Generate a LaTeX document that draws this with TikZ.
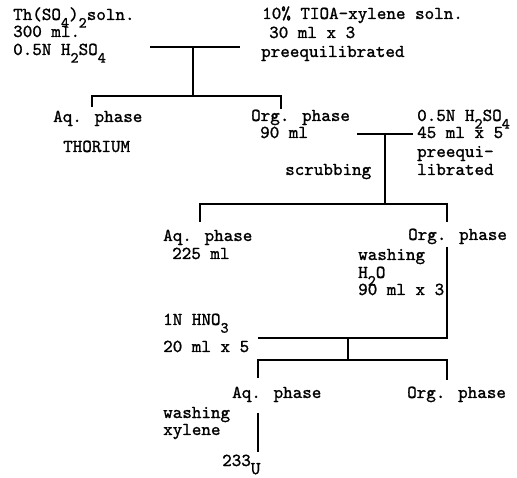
\documentclass[tikz,border=0pt]{standalone}
\usepackage{fontspec}
\newfontfamily\twfont{lmmono10-regular.otf}[FakeBold=1.2]
\newcommand\sbs[1]{\raisebox{-0.42em}{\scalebox{0.85}{#1}}}
\begin{document}
\begin{tikzpicture}[x=1pt,y=-1pt,
  txt/.style={anchor=base west,inner sep=0pt,font=\twfont\fontsize{18.2}{20}\selectfont},
  ln/.style={line width=1.4pt}]
\useasboundingbox (0,0) rectangle (517,478);
% texts
\node[txt] (th1) at (13,20) {Th(SO\sbs{4})\sbs{2}soln.};
\node[txt] (th2) at (13,37) {300 ml.};
\node[txt] (th3) at (13,55) {0.5N H\sbs{2}SO\sbs{4}};
\node[txt] (ti1) at (262,19) {10\% TIOA-xylene soln.};
\node[txt] (ti2) at (269,38) {30 ml x 3};
\node[txt] (ti3) at (261,57) {preequilibrated};
\node[txt] (aq1) at (53,122) {Aq. phase};
\node[txt] (thor) at (63,152) {THORIUM};
\node[txt] (org1) at (251,121) {Org. phase};
\node[txt] (org1b) at (260,138) {90 ml};
\node[txt] (hs1) at (417,121) {0.5N H\sbs{2}SO\sbs{4}};
\node[txt] (hs2) at (417,138) {45 ml x 5};
\node[txt] (hs3) at (417,157) {preequi-};
\node[txt] (hs4) at (417,175) {librated};
\node[txt] (scrub) at (285,175) {scrubbing};
\node[txt] (aq2) at (163,241) {Aq. phase};
\node[txt] (aq2b) at (172,259) {225 ml};
\node[txt] (org2) at (408,240) {Org. phase};
\node[txt] (wa1) at (358,260) {washing};
\node[txt] (wa2) at (358,278) {H\sbs{2}O};
\node[txt] (wa3) at (358,295) {90 ml x 3};
\node[txt] (hn1) at (163,325) {1N HNO\sbs{3}};
\node[txt] (hn2) at (163,352) {20 ml x 5};
\node[txt] (aq3) at (232,398) {Aq. phase};
\node[txt] (org3) at (407,398) {Org. phase};
\node[txt] (wx1) at (163,418) {washing};
\node[txt] (wx2) at (163,435) {xylene};
\node[txt] (u) at (222,466) {233\raisebox{-0.45em}{U}};
% junction coordinates
\coordinate (t1) at (150,47); \coordinate (t2) at (240,47);
\coordinate (tm) at (193,47); \coordinate (j1) at (193,96);
\coordinate (j1l) at (92,96); \coordinate (j1r) at (281,96);
\coordinate (a1) at (92,107); \coordinate (o1) at (281,109);
\coordinate (s1) at (357,134); \coordinate (s2) at (413,134);
\coordinate (sm) at (385,134); \coordinate (j2) at (385,204);
\coordinate (j2l) at (200,204); \coordinate (j2r) at (447,204);
\coordinate (a2) at (200,222); \coordinate (o2) at (447,222);
\coordinate (o2b) at (447,247); \coordinate (j3r) at (447,338);
\coordinate (j3l) at (258,338); \coordinate (j3) at (348,338);
\coordinate (j4) at (348,360); \coordinate (j4l) at (258,360);
\coordinate (j4r) at (447,360);
\coordinate (a3) at (258,378); \coordinate (o3) at (447,380);
\coordinate (a3b) at (258,413); \coordinate (ub) at (258,452);
% lines
\draw[ln] (t1) -- (t2);
\draw[ln] (tm) -- (j1);
\draw[ln] (a1) -- (j1l) -- (j1r) -- (o1);
\draw[ln] (s1) -- (s2);
\draw[ln] (sm) -- (j2);
\draw[ln] (a2) -- (j2l) -- (j2r) -- (o2);
\draw[ln] (o2b) -- (j3r) -- (j3l);
\draw[ln] (j3) -- (j4);
\draw[ln] (a3) -- (j4l) -- (j4r) -- (o3);
\draw[ln] (a3b) -- (ub);
\end{tikzpicture}
\end{document}
